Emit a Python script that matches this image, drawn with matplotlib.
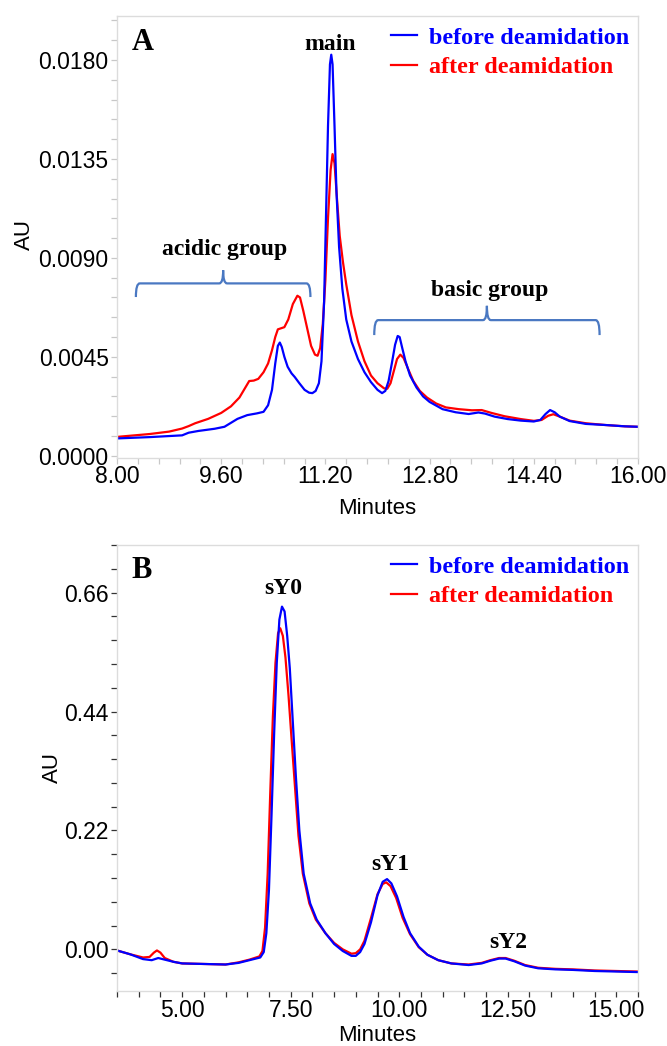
import matplotlib
matplotlib.use("Agg")
import matplotlib.pyplot as plt
from matplotlib.path import Path
from matplotlib.patches import PathPatch
from matplotlib.ticker import MultipleLocator, FixedLocator, FormatStrFormatter
from matplotlib.font_manager import FontProperties

# %% data

# panel A (charge variants)
a_before_x = [8.00, 8.50, 9.00, 9.10, 9.25, 9.50, 9.65, 9.75, 9.85, 10.00, 10.15, 10.25, 10.32,
              10.38, 10.43, 10.47, 10.50, 10.53, 10.57, 10.62, 10.68, 10.73, 10.80, 10.88, 10.95,
              11.00, 11.05, 11.10, 11.14, 11.18, 11.21, 11.24, 11.27, 11.29, 11.31, 11.34, 11.37,
              11.41, 11.46, 11.52, 11.60, 11.70, 11.80, 11.90, 12.00, 12.07, 12.12, 12.17, 12.22,
              12.27, 12.31, 12.34, 12.38, 12.43, 12.50, 12.60, 12.70, 12.80, 13.00, 13.20, 13.40,
              13.55, 13.65, 13.80, 14.00, 14.20, 14.40, 14.50, 14.58, 14.65, 14.72, 14.80, 14.95,
              15.20, 15.50, 15.80, 16.00]
a_before_y = [0.00079, 0.00085, 0.00093, 0.00105, 0.00113, 0.00123, 0.00132, 0.00150, 0.00168,
              0.00185, 0.00193, 0.00200, 0.00230, 0.00300, 0.00420, 0.00500, 0.00515, 0.00495,
              0.00450, 0.00405, 0.00375, 0.00358, 0.00330, 0.00300, 0.00287, 0.00285, 0.00295,
              0.00330, 0.00430, 0.00700, 0.01100, 0.01500, 0.01780, 0.01824, 0.01780, 0.01500,
              0.01200, 0.00950, 0.00760, 0.00620, 0.00520, 0.00440, 0.00380, 0.00335, 0.00300,
              0.00285, 0.00295, 0.00340, 0.00420, 0.00505, 0.00545, 0.00540, 0.00490, 0.00430,
              0.00365, 0.00310, 0.00270, 0.00245, 0.00212, 0.00198, 0.00190, 0.00197, 0.00192,
              0.00178, 0.00167, 0.00160, 0.00156, 0.00163, 0.00190, 0.00208, 0.00198, 0.00178,
              0.00158, 0.00145, 0.00140, 0.00134, 0.00132]

a_after_x = [8.00, 8.50, 8.80, 9.00, 9.10, 9.20, 9.40, 9.60, 9.75, 9.88, 9.97, 10.03, 10.10,
             10.17, 10.25, 10.32, 10.38, 10.43, 10.47, 10.52, 10.57, 10.63, 10.70, 10.77, 10.81,
             10.86, 10.92, 10.98, 11.04, 11.08, 11.12, 11.16, 11.20, 11.24, 11.28, 11.31, 11.34,
             11.38, 11.42, 11.47, 11.52, 11.60, 11.70, 11.80, 11.90, 12.00, 12.10, 12.15, 12.20,
             12.25, 12.30, 12.35, 12.40, 12.47, 12.55, 12.65, 12.76, 12.90, 13.05, 13.25, 13.45,
             13.60, 13.75, 13.95, 14.20, 14.40, 14.52, 14.62, 14.70, 14.80, 14.95, 15.20, 15.50,
             15.80, 16.00]
a_after_y = [0.00086, 0.00099, 0.00110, 0.00124, 0.00135, 0.00148, 0.00168, 0.00195, 0.00225,
             0.00265, 0.00310, 0.00340, 0.00342, 0.00350, 0.00380, 0.00420, 0.00480, 0.00540,
             0.00575, 0.00580, 0.00585, 0.00620, 0.00690, 0.00728, 0.00720, 0.00660, 0.00580,
             0.00500, 0.00460, 0.00455, 0.00490, 0.00600, 0.00800, 0.01080, 0.01300, 0.01372,
             0.01330, 0.01160, 0.01000, 0.00880, 0.00780, 0.00640, 0.00520, 0.00430, 0.00365,
             0.00330, 0.00307, 0.00305, 0.00330, 0.00385, 0.00440, 0.00460, 0.00445, 0.00395,
             0.00340, 0.00295, 0.00265, 0.00238, 0.00220, 0.00212, 0.00207, 0.00208, 0.00195,
             0.00180, 0.00167, 0.00159, 0.00163, 0.00182, 0.00189, 0.00178, 0.00160, 0.00148,
             0.00140, 0.00134, 0.00132]

# panel B (size variants)
b_before_x = [3.50, 3.80, 4.10, 4.30, 4.45, 4.60, 4.80, 5.00, 5.50, 6.00, 6.30, 6.55, 6.80,
              6.88, 6.94, 7.00, 7.06, 7.12, 7.18, 7.24, 7.30, 7.36, 7.42, 7.48, 7.55, 7.62,
              7.70, 7.80, 7.95, 8.10, 8.30, 8.50, 8.70, 8.90, 9.00, 9.10, 9.20, 9.35, 9.50,
              9.62, 9.72, 9.82, 9.95, 10.10, 10.25, 10.45, 10.65, 10.90, 11.20, 11.60, 11.90,
              12.10, 12.30, 12.45, 12.65, 12.90, 13.20, 13.60, 14.00, 14.50, 15.00, 15.50]
b_before_y = [-0.002, -0.009, -0.018, -0.020, -0.016, -0.019, -0.023, -0.026, -0.027, -0.028,
              -0.025, -0.020, -0.015, -0.005, 0.030, 0.110, 0.250, 0.400, 0.530, 0.610, 0.634,
              0.625, 0.580, 0.520, 0.420, 0.320, 0.220, 0.140, 0.085, 0.055, 0.030, 0.010,
              -0.003, -0.012, -0.012, -0.005, 0.010, 0.050, 0.100, 0.125, 0.130, 0.122, 0.098,
              0.060, 0.030, 0.005, -0.010, -0.020, -0.026, -0.029, -0.026, -0.021, -0.017,
              -0.017, -0.022, -0.030, -0.035, -0.037, -0.038, -0.040, -0.041, -0.042]

b_after_x = [3.50, 3.80, 4.10, 4.25, 4.35, 4.42, 4.50, 4.60, 4.80, 5.00, 5.50, 6.00, 6.30,
             6.55, 6.78, 6.85, 6.91, 6.97, 7.03, 7.09, 7.15, 7.21, 7.26, 7.32, 7.38, 7.45,
             7.52, 7.60, 7.68, 7.78, 7.93, 8.08, 8.30, 8.50, 8.70, 8.90, 9.00, 9.10, 9.20,
             9.35, 9.50, 9.62, 9.70, 9.80, 9.93, 10.08, 10.25, 10.45, 10.65, 10.90, 11.20,
             11.60, 11.90, 12.10, 12.30, 12.45, 12.65, 12.90, 13.20, 13.60, 14.00, 14.50,
             15.00, 15.50]
b_after_y = [-0.002, -0.009, -0.015, -0.014, -0.006, -0.002, -0.006, -0.016, -0.023, -0.026,
             -0.027, -0.028, -0.024, -0.019, -0.013, -0.003, 0.040, 0.140, 0.290, 0.430, 0.530,
             0.585, 0.594, 0.580, 0.540, 0.470, 0.390, 0.300, 0.210, 0.140, 0.085, 0.055, 0.030,
             0.012, 0.000, -0.008, -0.007, 0.000, 0.016, 0.058, 0.102, 0.121, 0.124, 0.117,
             0.095, 0.058, 0.028, 0.004, -0.010, -0.020, -0.026, -0.028, -0.025, -0.020, -0.016,
             -0.016, -0.021, -0.029, -0.034, -0.036, -0.037, -0.039, -0.040, -0.041]

a_xticks = [8.00, 9.60, 11.20, 12.80, 14.40, 16.00]
b_xticks = [5.00, 7.50, 10.00, 12.50, 15.00]

legend_labels = ['before deamidation', 'after deamidation']
blue = '#0000ff'
red = '#ff0000'
brace_color = '#4a78c2'

serif_bold = FontProperties(family=['Liberation Serif', 'DejaVu Serif'], weight='bold', size=17)
legend_font = FontProperties(family=['Liberation Serif', 'DejaVu Serif'], weight='bold', size=17.4)
panel_font = FontProperties(family=['Liberation Serif', 'DejaVu Serif'], weight='bold', size=22)

plt.rcParams['font.family'] = ['Liberation Sans', 'DejaVu Sans']
plt.rcParams['font.size'] = 16


def draw_brace(ax, x0, x1, xm, y, drop, tip, r):
    # curly bracket: ends hang down, small spike in the middle
    verts = [(x0, y - drop), (x0, y), (x0 + r, y),
             (xm - r, y), (xm, y), (xm, y + tip),
             (xm, y), (xm + r, y),
             (x1 - r, y), (x1, y), (x1, y - drop)]
    codes = [Path.MOVETO, Path.CURVE3, Path.CURVE3,
             Path.LINETO, Path.CURVE3, Path.CURVE3,
             Path.CURVE3, Path.CURVE3,
             Path.LINETO, Path.CURVE3, Path.CURVE3]
    ax.add_patch(PathPatch(Path(verts, codes), fill=False, edgecolor=brace_color, lw=1.6))


def style_axes(ax, tick_color):
    for s in ax.spines.values():
        s.set_color('#dcdcdc')
        s.set_linewidth(1.0)
    ax.tick_params(which='both', direction='out', color=tick_color, length=4, width=0.9,
                   labelsize=16.5, pad=2)


fig = plt.figure(figsize=(6.67, 10.46), dpi=100)

# %% panel A
axA = fig.add_axes([117 / 667, 1 - 458 / 1046, 521 / 667, 442 / 1046])
axA.plot(a_after_x, a_after_y, color=red, lw=1.6)
axA.plot(a_before_x, a_before_y, color=blue, lw=1.6)
axA.set_xlim(8.0, 16.0)
axA.set_ylim(-0.0001, 0.0200)
axA.xaxis.set_major_locator(FixedLocator(a_xticks))
axA.xaxis.set_minor_locator(MultipleLocator(0.32))
axA.xaxis.set_major_formatter(FormatStrFormatter('%.2f'))
axA.yaxis.set_major_locator(MultipleLocator(0.0045))
axA.yaxis.set_minor_locator(MultipleLocator(0.0009))
axA.yaxis.set_major_formatter(FormatStrFormatter('%.4f'))
style_axes(axA, '#c8c8c8')
axA.tick_params(axis='x', which='both', pad=1)
axA.set_xlabel('Minutes', fontsize=16)
axA.set_ylabel('AU', fontsize=16)
axA.xaxis.set_label_coords(0.50, -0.090)
axA.yaxis.set_label_coords(-0.158, 0.505)

draw_brace(axA, 8.29, 10.97, 9.63, 0.00784, 0.00062, 0.00060, 0.06)
draw_brace(axA, 11.95, 15.41, 13.68, 0.00617, 0.00068, 0.00065, 0.06)
axA.text(9.66, 0.0094, 'acidic group', fontproperties=serif_bold, ha='center', va='center')
axA.text(13.72, 0.0075, 'basic group', fontproperties=serif_bold, ha='center', va='center')
axA.text(11.27, 0.0187, 'main', fontproperties=serif_bold, ha='center', va='center')
axA.text(8.40, 0.0188, 'A', fontproperties=panel_font, ha='center', va='center')

# %% panel B
axB = fig.add_axes([117 / 667, 1 - 991 / 1046, 521 / 667, 446 / 1046])
axB.plot(b_after_x, b_after_y, color=red, lw=1.6)
axB.plot(b_before_x, b_before_y, color=blue, lw=1.6)
axB.set_xlim(3.5, 15.5)
axB.set_ylim(-0.077, 0.748)
axB.xaxis.set_major_locator(FixedLocator(b_xticks))
axB.xaxis.set_minor_locator(MultipleLocator(0.5))
axB.xaxis.set_major_formatter(FormatStrFormatter('%.2f'))
axB.yaxis.set_major_locator(MultipleLocator(0.22))
axB.yaxis.set_minor_locator(MultipleLocator(0.044))
axB.yaxis.set_major_formatter(FormatStrFormatter('%.2f'))
style_axes(axB, '#333333')
axB.set_xlabel('Minutes', fontsize=16)
axB.set_ylabel('AU', fontsize=16)
axB.xaxis.set_label_coords(0.50, -0.077)
axB.yaxis.set_label_coords(-0.103, 0.502)

axB.text(7.34, 0.667, 'sY0', fontproperties=serif_bold, ha='center', va='center')
axB.text(9.79, 0.157, 'sY1', fontproperties=serif_bold, ha='center', va='center')
axB.text(12.51, 0.012, 'sY2', fontproperties=serif_bold, ha='center', va='center')
axB.text(4.06, 0.700, 'B', fontproperties=panel_font, ha='center', va='center')

# legends (blue listed first, drawn last)
for ax in (axA, axB):
    lines = ax.get_lines()
    ax.legend([lines[1], lines[0]], legend_labels, loc='upper right', bbox_to_anchor=(1.0, 0.995),
              frameon=False, handlelength=1.1, handletextpad=0.5, labelspacing=0.33,
              borderaxespad=0.05, borderpad=0.3, prop=legend_font, labelcolor='linecolor')

fig.savefig('out.png', dpi=100)
